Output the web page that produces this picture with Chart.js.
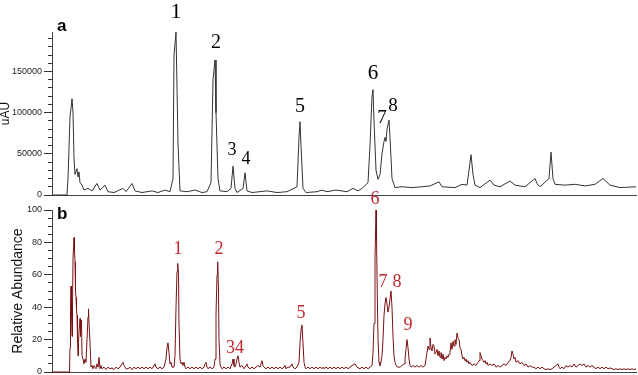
<!DOCTYPE html>
<html>
<head>
<meta charset="UTF-8">
<title>Chromatograms a / b</title>
<script src="https://cdn.jsdelivr.net/npm/chart.js"></script>
<style>
  body { margin: 0; background: #fff; overflow: hidden; }
  canvas { position: absolute; left: 0; }
  #chartA { top: 0; }
  #chartB { top: 188px; }
</style>
</head>
<body>
<canvas id="chartA" width="638" height="206"></canvas>
<canvas id="chartB" width="638" height="194"></canvas>
<script>
// panel a: UV trace (retention time in min, signal in uAU)
const timeA = [
  0, 1.5, 1.6, 1.8, 1.9, 2.0, 2.1, 2.2, 2.3, 2.5,
  2.6, 2.7, 2.8, 3.0, 3.2, 3.6, 4.0, 4.5, 4.8, 5.3,
  5.6, 6.2, 7.1, 7.4, 8.0, 8.3, 9.0, 10.0, 10.6, 11.3,
  11.8, 12.1, 12.2, 12.4, 12.5, 12.6, 12.8, 13.5, 14.3, 15.0,
  15.5, 15.9, 16.1, 16.3, 16.4, 16.6, 16.8, 17.5, 17.9, 18.1,
  18.3, 18.5, 19.1, 19.3, 19.5, 20.0, 21.5, 22.5, 23.5, 24.5,
  24.7, 24.8, 24.9, 25.1, 25.4, 26.5, 27.0, 27.5, 28.4, 29.5,
  30.1, 30.6, 31.0, 31.6, 31.8, 32.0, 32.1, 32.2, 32.4, 32.6,
  32.8, 33.0, 33.2, 33.3, 33.4, 33.5, 33.7, 33.8, 34.0, 34.3,
  35.0, 36.0, 37.0, 37.8, 38.7, 39.0, 40.3, 41.0, 41.5, 41.7,
  41.9, 42.1, 42.3, 42.8, 43.8, 44.2, 44.8, 45.8, 46.3, 47.3,
  48.3, 48.5, 48.8, 49.7, 49.9, 50.1, 50.3, 51.3, 52.3, 53.3,
  54.3, 55.1, 55.8, 56.8, 58.4
];
const uauA = [
  0, 0, 20000, 95000, 105000, 117000, 100000, 45000, 25000, 32000,
  22000, 28000, 15000, 12000, 6000, 8000, 5000, 14000, 6000, 12000,
  4000, 3000, 8000, 4000, 14000, 5000, 3000, 5000, 3000, 6000,
  4000, 20000, 170000, 198000, 130000, 63000, 5000, 4000, 6000, 3000,
  4000, 15000, 140000, 164000, 100000, 20000, 5000, 4000, 8000, 35000,
  8000, 3000, 8000, 27000, 5000, 3000, 5000, 3000, 4000, 10000,
  70000, 89000, 60000, 8000, 3000, 4000, 6000, 4000, 6000, 4000,
  8000, 5000, 8000, 15000, 60000, 120000, 128000, 90000, 30000, 19000,
  25000, 50000, 65000, 70000, 65000, 80000, 91000, 70000, 20000, 9000,
  10000, 9000, 10000, 11000, 16000, 10000, 9000, 13000, 12000, 30000,
  49000, 25000, 12000, 9000, 18000, 12000, 10000, 17000, 12000, 10000,
  20000, 14000, 10000, 20000, 52000, 20000, 13000, 12000, 13000, 11000,
  13000, 20000, 12000, 9000, 10000
];
// y-axis tick positions of panel a (labelled every 50000)
const ticksA = [0, 10000, 20000, 30000, 40000, 50000, 60000, 70000, 80000, 90000,
  100000, 110000, 120000, 130000, 140000, 150000, 160000, 170000, 180000, 190000];
const labelsA = [0, 50000, 100000, 150000];

// panel b: MS trace (relative abundance, %)
const timeB = [
  0, 1.75, 1.8, 1.85, 1.9, 1.95, 2.0, 2.05, 2.1, 2.2,
  2.25, 2.3, 2.35, 2.4, 2.45, 2.5, 2.55, 2.6, 2.65, 2.7,
  2.8, 2.85, 2.9, 2.95, 3.0, 3.1, 3.2, 3.3, 3.4, 3.5,
  3.6, 3.65, 3.7, 3.8, 3.9, 4.0, 4.1, 4.2, 4.3, 4.4,
  4.5, 4.6, 4.7, 4.8, 4.9, 5.0, 5.2, 5.4, 5.6, 5.8,
  6.0, 6.2, 6.4, 6.6, 6.8, 7.0, 7.1, 7.2, 7.4, 7.6,
  7.8, 8.0, 8.2, 8.4, 8.6, 8.8, 9.0, 9.2, 9.4, 9.6,
  9.8, 10.0, 10.2, 10.3, 10.4, 10.6, 10.8, 11.0, 11.2, 11.4,
  11.5, 11.6, 11.7, 11.8, 11.9, 12.0, 12.2, 12.3, 12.4, 12.5,
  12.57, 12.65, 12.7, 12.8, 12.9, 13.0, 13.1, 13.2, 13.3, 13.4,
  13.6, 13.8, 14.0, 14.2, 14.4, 14.6, 14.8, 15.0, 15.2, 15.3,
  15.4, 15.5, 15.6, 15.8, 16.0, 16.2, 16.3, 16.4, 16.5, 16.57,
  16.65, 16.7, 16.8, 16.9, 17.0, 17.2, 17.4, 17.6, 17.8, 18.0,
  18.1, 18.2, 18.3, 18.4, 18.5, 18.6, 18.7, 18.8, 19.0, 19.2,
  19.4, 19.5, 19.6, 19.8, 20.0, 20.2, 20.4, 20.6, 20.8, 21.0,
  21.1, 21.2, 21.4, 21.6, 21.8, 22.0, 22.2, 22.4, 22.6, 22.8,
  23.0, 23.2, 23.3, 23.4, 23.6, 23.8, 24.0, 24.1, 24.3, 24.5,
  24.7, 24.8, 24.9, 25.0, 25.1, 25.2, 25.3, 25.4, 25.6, 25.8,
  26.0, 26.2, 26.4, 26.6, 26.8, 27.0, 27.1, 27.2, 27.4, 27.6,
  27.8, 28.0, 28.2, 28.4, 28.6, 28.8, 29.0, 29.2, 29.4, 29.6,
  29.8, 30.0, 30.3, 30.5, 30.8, 31.0, 31.2, 31.4, 31.6, 31.8,
  32.0, 32.1, 32.2, 32.3, 32.4, 32.45, 32.5, 32.6, 32.7, 32.8,
  32.9, 33.0, 33.1, 33.2, 33.3, 33.4, 33.5, 33.6, 33.7, 33.8,
  33.9, 34.0, 34.1, 34.2, 34.3, 34.4, 34.6, 34.8, 35.0, 35.2,
  35.3, 35.4, 35.5, 35.6, 35.7, 35.8, 35.9, 36.1, 36.3, 36.5,
  36.7, 36.9, 37.1, 37.3, 37.4, 37.5, 37.6, 37.7, 37.8, 37.9,
  38.0, 38.1, 38.2, 38.3, 38.4, 38.5, 38.6, 38.7, 38.8, 38.9,
  39.0, 39.1, 39.2, 39.3, 39.4, 39.5, 39.6, 39.7, 39.8, 39.9,
  40.0, 40.1, 40.2, 40.3, 40.4, 40.5, 40.6, 40.7, 40.8, 40.9,
  41.0, 41.1, 41.2, 41.3, 41.4, 41.5, 41.6, 41.7, 41.8, 42.0,
  42.2, 42.4, 42.6, 42.7, 42.8, 42.9, 43.0, 43.1, 43.2, 43.3,
  43.4, 43.5, 43.6, 43.8, 44.0, 44.2, 44.4, 44.6, 44.8, 45.0,
  45.2, 45.4, 45.6, 45.8, 45.9, 46.0, 46.1, 46.2, 46.3, 46.4,
  46.6, 46.8, 47.0, 47.2, 47.4, 47.6, 47.8, 48.0, 48.2, 48.4,
  48.6, 48.8, 49.0, 49.2, 49.4, 49.6, 49.8, 50.0, 50.2, 50.4,
  50.6, 50.7, 50.8, 51.0, 51.2, 51.4, 51.6, 51.8, 52.0, 52.2,
  52.4, 52.6, 52.8, 53.0, 53.2, 53.4, 53.6, 53.8, 54.0, 54.2,
  54.4, 54.6, 54.8, 55.0, 55.2, 55.4, 55.6, 55.8, 56.0, 56.2,
  56.4, 56.6, 56.8, 57.0, 57.2, 57.4, 57.6, 57.8, 58.0, 58.2, 58.4
];
const abundB = [
  0, 0, 15, 38, 53, 35, 22, 40, 70, 83,
  75, 68, 50, 46, 38, 35, 20, 10, 18, 25,
  33, 22, 31, 32, 10, 8, 5, 8, 6, 20,
  34, 39, 30, 18, 3, 4, 2, 4, 3, 2,
  5, 3, 9, 2, 4, 2, 3, 1.5, 3, 2,
  2.5, 1.5, 3, 2, 3, 5, 6, 4, 2, 2,
  3, 1.5, 3, 2, 3, 2, 3, 2, 3, 2,
  3, 2, 4, 5, 3, 2, 3, 2, 3, 8,
  15, 18, 12, 5, 6, 3, 3, 10, 40, 62,
  67, 60, 30, 8, 5, 6, 4, 6, 3, 2,
  3, 2, 3, 2, 3, 2, 3, 2, 3, 5,
  6, 3, 2, 3, 2, 3, 8, 35, 60, 68,
  50, 20, 5, 3, 2, 3, 2, 3, 2, 5,
  8, 4, 3, 5, 8, 10, 6, 3, 4, 2,
  4, 5, 3, 2, 3, 2, 3, 4, 3, 7,
  4, 3, 2, 3, 2, 3, 2, 3, 2, 3,
  2, 3, 4, 2, 3, 3, 5, 3, 2, 3,
  6, 18, 26, 29, 18, 6, 3, 2, 3, 2,
  3, 2, 3, 2, 3, 2, 3, 2, 3, 2,
  3, 2, 3, 2, 3, 2, 3, 2, 3, 2,
  3, 4, 5, 3, 2, 3, 2, 3, 2, 3,
  4, 12, 30, 70, 100, 85, 60, 20, 6, 4,
  6, 10, 20, 35, 42, 46, 42, 37, 40, 45,
  50, 40, 22, 10, 6, 4, 3, 3, 4, 5,
  8, 14, 20, 15, 8, 4, 3, 4, 3, 4,
  3, 4, 3, 4, 8, 12, 16, 14, 21, 15,
  13, 17, 16, 11, 12, 14, 10, 13, 9, 12,
  8, 11, 7, 9, 8, 10, 9, 11, 12, 18,
  14, 19, 16, 20, 17, 24, 21, 20, 15, 14,
  10, 8, 9, 7, 8, 6, 7, 5, 6, 4,
  5, 4, 6, 7, 12, 10, 8, 7, 6, 7,
  5, 6, 4, 5, 4, 5, 3, 4, 3, 4,
  5, 4, 6, 7, 9, 13, 11, 8, 9, 6,
  7, 5, 6, 4, 5, 3, 4, 3, 3, 2,
  3, 2, 3, 2, 1.5, 2, 1.5, 2, 3, 4,
  5, 3, 2, 3, 2, 4, 3, 4, 3, 5,
  3, 4, 5, 4, 5, 3, 4, 3, 4, 3,
  2, 3, 2, 3, 2, 3, 2, 2.5, 2, 1.5,
  2, 1.5, 2, 1.5, 2, 1.5, 2, 1.5, 2, 1.5, 2
];
// y-axis tick positions of panel b (labelled every 20)
const ticksB = [0, 5, 10, 15, 20, 25, 30, 35, 40, 45, 50, 55, 60, 65, 70, 75, 80, 85, 90, 95, 100];
const labelsB = [0, 20, 40, 60, 80, 100];

// peak numbers: text, time of label centre, value at label bottom
const peakNamesA = ['1', '2', '3', '4', '5', '6', '7', '8'];
const peakTimesA = [12.4, 16.4, 18.0, 19.4, 24.8, 32.1, 33.0, 34.1];
const peakLabelValA = [209000, 173000, 44000, 33000, 95000, 135000, 82000, 97000];
const peakSizesA = [22, 20, 18, 18, 20, 21, 19, 19];

const peakNamesB = ['1', '2', '34', '5', '6', '7', '8', '9'];
const peakTimesB = [12.6, 16.7, 18.3, 24.9, 32.3, 33.1, 34.5, 35.6];
const peakLabelValB = [70, 70, 9, 31, 101, 50, 50, 23];

const serif = "'Liberation Serif', 'Times New Roman', serif";
const sans = "'Liberation Sans', Arial, sans-serif";

function toPoints(xs, ys) {
  return xs.map((x, i) => ({ x: x, y: ys[i] }));
}

// peak numbers, panel letter and rotated y title
function annotate(names, times, vals, sizes, color, panel, panelY, title, titleX, titleSize) {
  return {
    id: 'annotate',
    afterDatasetsDraw(chart) {
      const ctx = chart.ctx;
      const xs = chart.scales.x, ys = chart.scales.y;
      ctx.save();
      ctx.fillStyle = color;
      ctx.textAlign = 'center';
      ctx.textBaseline = 'bottom';
      names.forEach((n, i) => {
        ctx.font = (sizes ? sizes[i] : 18) + 'px ' + serif;
        ctx.fillText(n, xs.getPixelForValue(times[i]), ys.getPixelForValue(vals[i]));
      });
      ctx.fillStyle = '#000';
      ctx.textAlign = 'left';
      ctx.textBaseline = 'alphabetic';
      ctx.font = 'bold 17px ' + sans;
      ctx.fillText(panel, 57, panelY);

      const area = chart.chartArea;
      ctx.translate(titleX, (area.top + area.bottom) / 2);
      ctx.rotate(-Math.PI / 2);
      ctx.textAlign = 'center';
      ctx.textBaseline = 'middle';
      ctx.fillStyle = '#111';
      ctx.font = titleSize + 'px ' + sans;
      ctx.fillText(title, 0, 0);
      ctx.restore();
    }
  };
}

function makeChart(id, xs, ys, color, yMax, tickVals, labelVals, padTop, padBottom, plugin) {
  return new Chart(document.getElementById(id), {
    type: 'line',
    data: {
      datasets: [{
        data: toPoints(xs, ys),
        borderColor: color,
        borderWidth: 1,
        pointRadius: 0,
        tension: 0,
        fill: false,
        clip: false
      }]
    },
    options: {
      responsive: false,
      animation: false,
      devicePixelRatio: 1,
      layout: { padding: { top: padTop, bottom: padBottom, left: 0, right: 2 } },
      plugins: { legend: { display: false }, tooltip: { enabled: false } },
      scales: {
        x: {
          type: 'linear',
          min: 0,
          max: 58.4,
          ticks: { display: false },
          grid: { display: false },
          border: { display: true, color: '#444', width: 1 },
          afterFit: s => { s.height = 0; }
        },
        y: {
          min: 0,
          max: yMax,
          afterBuildTicks: s => { s.ticks = tickVals.map(v => ({ value: v })); },
          afterFit: s => { s.width = 52; },
          ticks: {
            autoSkip: false,
            padding: 2,
            color: '#222',
            font: { family: sans, size: 9 },
            callback: v => (labelVals.includes(v) ? String(v) : '')
          },
          grid: {
            display: true,
            drawOnChartArea: false,
            drawTicks: true,
            tickLength: 8,
            color: '#333',
            tickColor: '#333',
            tickWidth: 1,
            // minor ticks: only the half next to the axis is drawn
            tickBorderDash: c => (c.tick && labelVals.includes(c.tick.value) ? [] : [0, 4, 4, 0])
          },
          border: { display: true, color: '#444', width: 1 },
          title: { display: false }
        }
      }
    },
    plugins: [plugin]
  });
}

makeChart('chartA', timeA, uauA, '#333', 198000, ticksA, labelsA, 32, 11,
  annotate(peakNamesA, peakTimesA, peakLabelValA, peakSizesA, '#000', 'a', 31, 'uAU', 6, 12));

makeChart('chartB', timeB, abundB, '#7a1010', 100, ticksB, labelsB, 22, 10,
  annotate(peakNamesB, peakTimesB, peakLabelValB, null, '#c0272d', 'b', 31, 'Relative Abundance', 18, 14));
</script>
</body>
</html>
